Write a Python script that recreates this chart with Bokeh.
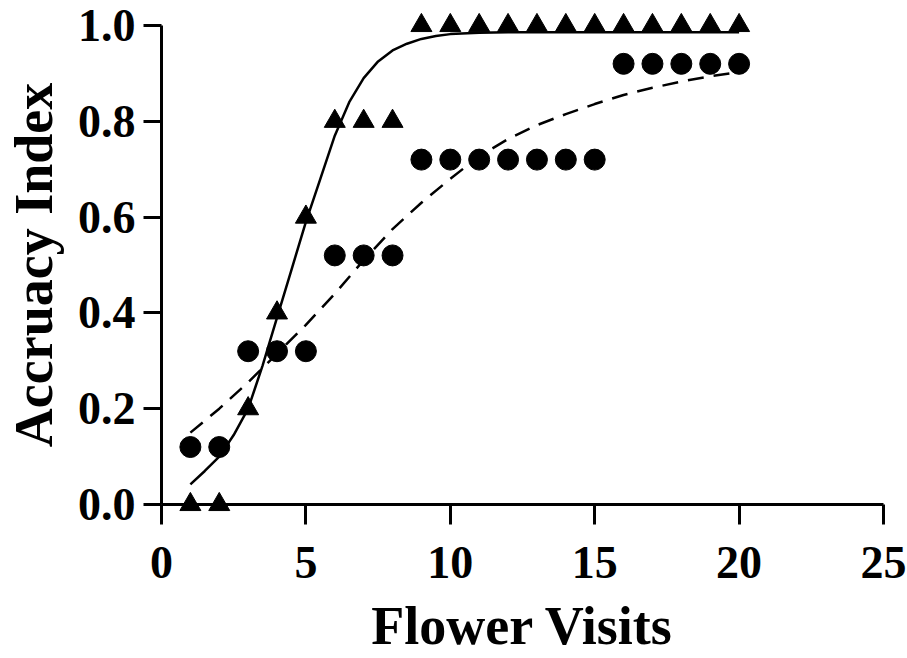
from bokeh.plotting import figure
from bokeh.models import Range1d, FixedTicker, PrintfTickFormatter
from bokeh.embed import file_html
from bokeh.resources import INLINE

# Data
visits = list(range(1, 21))
triangle_acc = [0.0, 0.0, 0.2, 0.4, 0.6, 0.8, 0.8, 0.8,
                1.0, 1.0, 1.0, 1.0, 1.0, 1.0, 1.0, 1.0, 1.0, 1.0, 1.0, 1.0]
circle_acc = [0.12, 0.12, 0.32, 0.32, 0.32, 0.52, 0.52, 0.52,
              0.72, 0.72, 0.72, 0.72, 0.72, 0.72, 0.72,
              0.92, 0.92, 0.92, 0.92, 0.92]

# Fitted curves
solid_x = [1.0, 1.5, 2.0, 2.5, 3.0, 3.5, 4.0, 4.5, 5.0, 5.5, 6.0, 6.5, 7.0, 7.5,
           8.0, 8.5, 9.0, 9.5, 10.0, 11.0, 12.0, 13.0, 14.0, 15.0, 16.0, 17.0,
           18.0, 19.0, 20.0]
solid_y = [0.042, 0.07, 0.10, 0.145, 0.20, 0.29, 0.39, 0.49, 0.59, 0.68, 0.77,
           0.84, 0.89, 0.925, 0.948, 0.962, 0.972, 0.978, 0.982, 0.985, 0.986,
           0.986, 0.986, 0.986, 0.986, 0.986, 0.986, 0.986, 0.986]
dashed_x = [1, 2, 3, 4, 5, 6, 7, 8, 9, 10, 11, 12, 13, 14, 15, 16, 17, 18, 19, 20]
dashed_y = [0.15, 0.20, 0.255, 0.315, 0.375, 0.44, 0.51, 0.575, 0.63, 0.68,
            0.727, 0.763, 0.792, 0.815, 0.836, 0.855, 0.870, 0.883, 0.894, 0.903]

x_ticks = [0, 5, 10, 15, 20, 25]
y_ticks = [0.0, 0.2, 0.4, 0.6, 0.8, 1.0]
x_title = "Flower Visits"
y_title = "Accruacy Index"

FONT = "Liberation Serif"

p = figure(width=907, height=658, output_backend="svg", toolbar_location=None,
           x_range=Range1d(0, 25), y_range=Range1d(0, 1.0),
           min_border_left=0, min_border_right=24, min_border_top=25,
           min_border_bottom=0)
p.outline_line_color = None
p.grid.visible = False
p.background_fill_color = "white"
p.border_fill_color = "white"

p.line(solid_x, solid_y, line_color="black", line_width=2.5)
p.line(dashed_x, dashed_y, line_color="black", line_width=2.5, line_dash="16 10")
r1 = p.scatter(visits, circle_acc, marker="circle", size=21, color="black")
r2 = p.scatter(visits, triangle_acc, marker="triangle", size=21, color="black")
r1.level = "overlay"
r2.level = "overlay"

for ax in (p.xaxis[0], p.yaxis[0]):
    ax.axis_line_width = 3
    ax.axis_line_color = "black"
    ax.major_tick_line_width = 3
    ax.major_tick_line_color = "black"
    ax.major_tick_in = 0
    ax.minor_tick_line_color = None
    ax.major_label_text_font = FONT
    ax.major_label_text_font_style = "bold"
    ax.major_label_text_font_size = "46px"
    ax.major_label_text_color = "black"
    ax.axis_label_text_font = FONT
    ax.axis_label_text_font_style = "bold"
    ax.axis_label_text_color = "black"

p.xaxis[0].ticker = FixedTicker(ticks=x_ticks)
p.xaxis[0].bounds = (0, 25)
p.xaxis[0].major_tick_out = 20
p.xaxis[0].major_label_standoff = 22
p.xaxis[0].axis_label = x_title
p.xaxis[0].axis_label_text_font_size = "54px"
p.xaxis[0].axis_label_standoff = 15

p.yaxis[0].ticker = FixedTicker(ticks=y_ticks)
p.yaxis[0].formatter = PrintfTickFormatter(format="%.1f")
p.yaxis[0].bounds = (0, 1)
p.yaxis[0].major_tick_out = 18
p.yaxis[0].major_label_standoff = 8
p.yaxis[0].axis_label = y_title
p.yaxis[0].axis_label_text_font_size = "54px"
p.yaxis[0].axis_label_standoff = 11

open("out.html", "w").write(file_html(p, INLINE))
